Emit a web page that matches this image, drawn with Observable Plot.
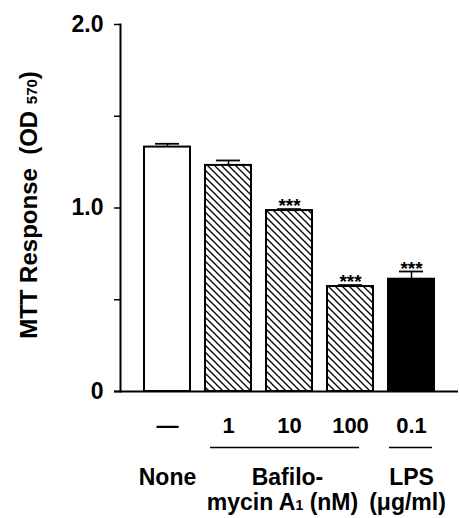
<!DOCTYPE html>
<html><head><meta charset="utf-8">
<script src="https://cdn.jsdelivr.net/npm/d3@7"></script>
<script src="https://cdn.jsdelivr.net/npm/@observablehq/plot@0.6"></script>
<style>body{margin:0;background:#fff}</style>
</head><body><div id="chart"></div>
<script>
// ---- data ----
const categories = ["None", "1", "10", "100", "0.1"];
const tickLabels = ["—", "1", "10", "100", "0.1"];
const groups = ["None", "Bafilo", "Bafilo", "Bafilo", "LPS"];
const values = [1.332, 1.232, 0.986, 0.572, 0.612];
const errors = [0.018, 0.027, 0.008, 0.008, 0.042];
const stars = ["", "", "***", "***", "***"];
const yTicks = [0, 0.5, 1, 1.5, 2];
const yTickLabels = ["0", "", "1.0", "", "2.0"];
const yTitle = "MTT Response  (OD 570)";

const data = categories.map((c, i) => ({
  cat: c, group: groups[i], value: values[i], err: errors[i],
  top: values[i] + errors[i], star: stars[i]
}));

const hatchId = "hatch-bafilo";
const font = "'Liberation Sans', Arial, Helvetica, sans-serif";
const lbl = {frameAnchor: "bottom", lineAnchor: "middle", textAnchor: "middle", fontSize: 23};

const plot = Plot.plot({
  width: 460, height: 518,
  marginLeft: 120, marginRight: 2, marginTop: 24, marginBottom: 127,
  style: {fontFamily: font, fontWeight: "bold", fontSize: "22px", color: "#000", background: "#fff", overflow: "visible"},
  x: {type: "band", domain: categories, paddingInner: 0.25, paddingOuter: 0.38},
  y: {domain: [0, 2]},
  marks: [
    Plot.barY(data.filter(d => d.group === "None"), {x: "cat", y: "value", fill: "white", stroke: "black", strokeWidth: 2}),
    Plot.barY(data.filter(d => d.group === "Bafilo"), {x: "cat", y: "value", fill: `url(#${hatchId})`, stroke: "black", strokeWidth: 2}),
    Plot.barY(data.filter(d => d.group === "LPS"), {x: "cat", y: "value", fill: "black", stroke: "black", strokeWidth: 2}),
    Plot.ruleX(data, {x: "cat", y1: "value", y2: "top", strokeWidth: 1.5}),
    Plot.tickY(data, {x: "cat", y: "top", insetLeft: 11, insetRight: 11, strokeWidth: 1.8}),
    Plot.text(data, {x: "cat", y: "top", text: "star", dy: -3, fontSize: 19}),
    Plot.ruleY([0], {strokeWidth: 2, insetLeft: -6}),
    Plot.frame({anchor: "left", strokeWidth: 2}),
    Plot.axisY({ticks: yTicks, tickFormat: d => yTickLabels[yTicks.indexOf(d)], tickSize: 6, tickPadding: 11, label: null, fontSize: 23, strokeWidth: 1.5}),
    Plot.axisX({tickSize: 0, tickPadding: 26, tickFormat: d => tickLabels[categories.indexOf(d)], label: null, fontSize: 22}),
    // group underlines
    Plot.ruleY([0], {x1: () => "1", x2: () => "100", dy: 56, insetLeft: 5, insetRight: 14, strokeWidth: 1.5}),
    Plot.ruleY([0], {x1: () => "0.1", x2: () => "0.1", dy: 56, insetLeft: 1, insetRight: 2, strokeWidth: 1.5}),
    // group labels
    Plot.text(["None"], {...lbl, x: () => "None", text: d => d, dy: 86}),
    Plot.text(["Bafilo-"], {...lbl, x: () => "10", text: d => d, dy: 86, dx: -2}),
    Plot.text(["LPS"], {...lbl, x: () => "0.1", text: d => d, dy: 86}),
    Plot.text(["mycin A1 (nM)"], {...lbl, x: () => "10", text: d => d, dy: 111, dx: -7}),
    Plot.text(["(μg/ml)"], {...lbl, x: () => "0.1", text: d => d, dy: 111, dx: -4}),
    // y title
    Plot.text([yTitle], {text: d => d, frameAnchor: "left", textAnchor: "middle", rotate: -90, dx: -101, dy: -3, lineAnchor: "top", fontSize: 24})
  ]
});

// hatch pattern
const svg = d3.select(plot);
const s = 7;
const defs = svg.insert("defs", ":first-child");
const pat = defs.append("pattern").attr("id", hatchId).attr("patternUnits", "userSpaceOnUse")
  .attr("width", s).attr("height", s);
pat.append("rect").attr("width", s).attr("height", s).attr("fill", "white");
pat.append("path").attr("d", `M0,0 L${s},${s} M${-s/2},${s/2} L${s/2},${s*1.5} M${s/2},${-s/2} L${s*1.5},${s/2}`)
  .attr("stroke", "black").attr("stroke-width", 1.3);

// small-size parts of labels
svg.selectAll("text").each(function() {
  const t = this.textContent;
  if (t === yTitle) {
    this.textContent = "";
    const sel = d3.select(this).style("white-space", "pre");
    sel.append("tspan").text("MTT Response  (OD ");
    sel.append("tspan").attr("font-size", 15).text("570");
    sel.append("tspan").text(")");
  } else if (t === "mycin A1 (nM)") {
    this.textContent = "";
    const sel = d3.select(this);
    sel.append("tspan").text("mycin A");
    sel.append("tspan").attr("font-size", 14).text("1");
    sel.append("tspan").text(" (nM)");
  }
});

document.getElementById("chart").append(plot);
</script>
</body></html>
